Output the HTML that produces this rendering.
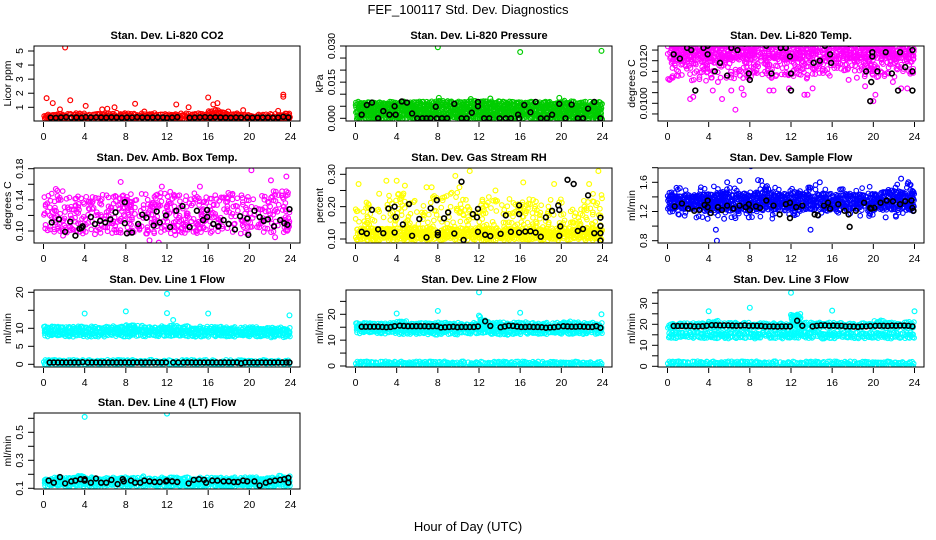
<!DOCTYPE html>
<html><head><meta charset="utf-8">
<style>
html,body{margin:0;padding:0;background:#fff}
svg{display:block}
text{font-family:"Liberation Sans",Arial,sans-serif;fill:#000}
.pt{font-weight:bold;font-size:11px}
.tk{font-size:10.5px}
</style></head>
<body>
<svg id="chart" width="936" height="540" viewBox="0 0 936 540" xmlns="http://www.w3.org/2000/svg">
<text x="468" y="14" text-anchor="middle" font-size="13">FEF_100117  Std. Dev. Diagnostics</text>
<text x="468" y="531" text-anchor="middle" font-size="13">Hour of Day (UTC)</text>
</svg>
<script>
const NS="http://www.w3.org/2000/svg";
const svg=document.getElementById('chart');
const xTicks=[0,4,8,12,16,20,24];

// ---- CO2 ----
const co2RedLo=[0.2,0.2,0.2,0.2,0.2,0.2,0.2,0.2,0.2,0.2,0.2,0.2,0.2,0.2,0.2,0.2,0.2,0.2,0.2,0.2,0.2,0.2,0.2,0.2];
const co2RedHi=[0.45,0.5,0.45,0.5,0.45,0.5,0.5,0.55,0.5,0.5,0.5,0.45,0.5,0.5,0.45,0.5,0.75,0.7,0.5,0.45,0.4,0.45,0.45,0.5];
const co2RedX=[0.3,0.9,1.6,2.1,2.6,4.1,5.7,6.2,6.9,8.9,9.8,12.9,14.1,16.0,16.5,16.9,19.4,22.8,23.3,23.3,23.5];
const co2RedY=[1.65,1.3,0.85,5.25,1.5,1.1,0.85,0.9,1.0,1.25,0.7,1.2,1.0,1.7,1.2,1.3,0.8,0.75,1.9,1.75,0.55];
const co2BlkX=[0.7,1.2,1.7,2.2,2.7,3.2,3.7,4.1,4.6,5.1,5.6,6.1,6.6,7.1,7.6,8.1,8.6,9.1,9.6,10.1,10.6,11.1,11.6,12.0,12.5,13.0,14.2,14.7,15.2,15.7,16.2,16.7,17.2,17.7,18.2,18.7,19.2,19.8,20.3,20.8,21.3,21.8,22.3,22.8,23.3,23.8];
const co2BlkY=[0.27,0.25,0.28,0.3,0.27,0.28,0.26,0.3,0.28,0.29,0.28,0.27,0.29,0.28,0.26,0.28,0.27,0.3,0.28,0.27,0.28,0.29,0.28,0.25,0.27,0.3,0.26,0.27,0.29,0.3,0.28,0.29,0.28,0.27,0.26,0.28,0.27,0.28,0.26,0.27,0.28,0.27,0.26,0.27,0.32,0.28];
// ---- Pressure ----
const prsLo=[0,0,0,0,0,0,0,0,0,0,0,0,0,0,0,0,0,0,0,0,0,0,0,0];
const prsHi=[0.0065,0.0065,0.0065,0.0065,0.0065,0.0065,0.0065,0.0065,0.0068,0.0065,0.0065,0.0068,0.0068,0.0068,0.0065,0.0068,0.0065,0.0065,0.0065,0.0065,0.0068,0.0065,0.0065,0.0065];
const prsGrnX=[8.0,16.0,23.9,8.1,13.1,19.8,11.2];
const prsGrnY=[0.0295,0.0275,0.0280,0.0085,0.0082,0.0085,0.0080];
const prsBlkX=[0.6,1.1,1.6,2.2,2.7,3.3,3.8,3.9,4.5,5.0,5.5,6.0,6.5,6.9,7.3,7.8,7.9,8.4,8.9,9.6,10.3,10.8,11.3,11.9,11.9,12.5,13.0,14.0,14.6,15.1,15.8,15.9,16.4,17.0,17.5,18.0,18.6,19.1,19.8,20.4,21.0,21.6,22.1,22.6,23.2,23.8];
const prsBlkY=[0.0015,0.0055,0.0065,0,0.003,0.0015,0.005,0.0015,0.0070,0.0065,0.002,0,0,0,0,0.0048,0,0,0,0.006,0,0,0.0023,0.0068,0.005,0,0,0,0,0,0.0015,0,0.0055,0.0025,0.0068,0,0,0.0015,0.006,0,0.0057,0,0,0.004,0.0068,0];
// ---- Li-820 Temp ----
const tmpTopLo=[0.0121,0.0121,0.0121,0.0121,0.0121,0.0121,0.0121,0.0121,0.0121,0.0121,0.0121,0.0121,0.0121,0.0121,0.0121,0.0121,0.0121,0.0121,0.0121,0.0121,0.0121,0.0121,0.0121,0.0121];
const tmpTopHi=[0.0128,0.0128,0.0128,0.0128,0.0128,0.0128,0.0128,0.0128,0.0128,0.0128,0.0128,0.0128,0.0128,0.0128,0.0128,0.0128,0.0128,0.0128,0.0128,0.0128,0.0128,0.0128,0.0128,0.0128];
const tmpMidLo=[0.0111,0.0112,0.0111,0.0111,0.0112,0.0111,0.0112,0.0112,0.0113,0.0113,0.0112,0.0113,0.0113,0.0112,0.0113,0.0113,0.0115,0.0116,0.0115,0.0113,0.0112,0.0113,0.0112,0.0114];
const tmpMidHi=[0.0121,0.0121,0.0121,0.0121,0.0121,0.0121,0.0121,0.0121,0.0121,0.0121,0.0121,0.0121,0.0121,0.0121,0.0121,0.0121,0.0121,0.0121,0.0121,0.0121,0.0121,0.0121,0.0121,0.0121];
const tmpMagX=[2.2,2.5,4.4,5.3,6.2,6.6,7.2,7.4,9.9,10.3,11.8,13.3,13.6,14.1,19.7,20.0,20.2,22.7,23.3,21.9,17.6,18.4,19.2,4.9,0.2,0.5];
const tmpMagY=[0.0102,0.0103,0.0106,0.0102,0.0106,0.0097,0.0107,0.0104,0.0106,0.0106,0.0107,0.0104,0.0104,0.0107,0.0101,0.0101,0.0104,0.0107,0.0107,0.0110,0.0111,0.0112,0.0108,0.0110,0.0111,0.0112];
const tmpBlkX=[0.6,1.2,1.9,2.3,2.7,3.5,3.9,3.9,4.6,5.1,5.8,6.2,6.8,7.5,7.9,8.0,8.6,9.6,10.1,11.0,11.5,11.9,12.0,12.0,12.8,13.3,14.2,14.8,15.3,15.8,15.8,15.9,17.1,17.6,18.2,18.6,19.3,19.8,19.7,19.9,19.9,20.4,21.2,21.8,22.4,22.6,23.1,23.8,23.8,23.8];
const tmpBlkY=[0.0123,0.0121,0.0126,0.0125,0.0106,0.0126,0.0127,0.0123,0.0115,0.0119,0.0113,0.0126,0.0125,0.0128,0.0114,0.0111,0.0129,0.0127,0.0114,0.0126,0.0126,0.0122,0.0114,0.0106,0.0129,0.0129,0.0119,0.0120,0.0127,0.0128,0.0123,0.0119,0.0129,0.0128,0.0129,0.0128,0.0115,0.0110,0.0101,0.0124,0.0122,0.0115,0.0124,0.0114,0.0106,0.0124,0.0117,0.0125,0.0115,0.0106];
// ---- Amb Box Temp ----
const ambLo=[0.100,0.099,0.097,0.098,0.098,0.097,0.099,0.099,0.098,0.098,0.097,0.097,0.098,0.099,0.098,0.099,0.099,0.100,0.099,0.098,0.099,0.100,0.098,0.099];
const ambHi=[0.148,0.152,0.148,0.145,0.148,0.145,0.147,0.146,0.148,0.150,0.145,0.148,0.150,0.146,0.147,0.148,0.145,0.148,0.148,0.146,0.145,0.145,0.150,0.150];
const ambMagX=[20.2,23.6,22.1,7.5,11.5,15.2,10.3,11.2,1.2,22.5,12.8,5.0,0.4,1.9];
const ambMagY=[0.178,0.170,0.165,0.163,0.157,0.157,0.088,0.085,0.154,0.092,0.095,0.096,0.101,0.094];
const ambBlkX=[0.8,1.5,2.1,2.6,3.1,3.5,3.7,3.8,4.6,5.0,5.5,6.0,6.5,7.0,7.9,7.9,8.1,8.6,9.2,9.6,10.0,10.7,11.0,11.3,11.9,12.3,12.9,13.5,14.2,14.9,15.5,15.9,15.9,16.5,17.0,17.5,18.0,18.6,19.1,19.8,19.9,20.5,21.0,21.4,21.8,22.4,23.0,23.4,23.7,23.9];
const ambBlkY=[0.111,0.115,0.099,0.112,0.094,0.103,0.104,0.106,0.118,0.109,0.113,0.111,0.115,0.124,0.137,0.110,0.097,0.098,0.109,0.121,0.117,0.107,0.125,0.111,0.120,0.105,0.126,0.132,0.105,0.126,0.114,0.127,0.118,0.109,0.106,0.114,0.109,0.102,0.119,0.116,0.095,0.126,0.118,0.113,0.115,0.106,0.114,0.110,0.108,0.128];
// ---- Gas Stream RH ----
const rhLoD=[0.10,0.10,0.10,0.10,0.10,0.10,0.10,0.10,0.10,0.10,0.10,0.10,0.10,0.10,0.10,0.10,0.10,0.10,0.10,0.10,0.10,0.10,0.10,0.10];
const rhHiD=[0.13,0.13,0.13,0.13,0.13,0.13,0.13,0.13,0.13,0.13,0.13,0.13,0.13,0.13,0.13,0.13,0.13,0.13,0.13,0.13,0.13,0.13,0.13,0.13];
const rhLoS=[0.13,0.13,0.13,0.13,0.13,0.13,0.13,0.13,0.13,0.13,0.13,0.13,0.13,0.13,0.13,0.13,0.13,0.13,0.13,0.13,0.13,0.13,0.13,0.13];
const rhHiS=[0.20,0.22,0.23,0.23,0.24,0.22,0.20,0.23,0.23,0.24,0.22,0.22,0.23,0.23,0.22,0.21,0.22,0.22,0.22,0.22,0.21,0.21,0.22,0.24];
const rhYelX=[0.3,3.0,4.0,11.1,23.6,9.7,10.1,6.9,7.4,13.6,4.8,2.3,16.3,22.7,19.3];
const rhYelY=[0.27,0.28,0.28,0.31,0.31,0.295,0.26,0.26,0.26,0.25,0.265,0.24,0.275,0.27,0.27];
const rhBlkX=[0.6,1.1,1.6,2.2,2.7,3.2,3.8,3.8,3.9,4.6,5.2,5.5,6.2,6.9,7.3,7.9,8.0,8.0,8.6,9.0,9.6,10.3,10.5,11.4,11.8,11.9,11.9,12.6,13.1,14.1,14.6,15.1,15.9,15.9,15.9,16.5,17.0,17.5,18.0,18.5,19.1,19.7,19.8,19.9,19.8,20.6,21.2,21.6,22.1,22.6,23.2,23.8,23.8,23.8,23.8];
const rhBlkY=[0.122,0.117,0.19,0.13,0.118,0.194,0.20,0.12,0.168,0.145,0.208,0.11,0.162,0.105,0.195,0.22,0.12,0.112,0.164,0.182,0.117,0.277,0.097,0.177,0.167,0.193,0.122,0.113,0.109,0.116,0.173,0.122,0.204,0.177,0.12,0.123,0.124,0.12,0.107,0.167,0.187,0.204,0.19,0.139,0.11,0.283,0.27,0.125,0.131,0.235,0.118,0.14,0.166,0.118,0.095];
// ---- Sample Flow ----
const sfLoD=[1.25,1.23,1.24,1.22,1.23,1.24,1.22,1.23,1.24,1.22,1.23,1.24,1.22,1.23,1.24,1.22,1.23,1.24,1.23,1.22,1.23,1.24,1.23,1.22];
const sfHiD=[1.45,1.43,1.42,1.44,1.43,1.45,1.44,1.43,1.45,1.44,1.43,1.44,1.45,1.44,1.43,1.44,1.42,1.43,1.42,1.44,1.45,1.46,1.47,1.46];
const sfLoS=[1.15,1.14,1.13,1.12,1.14,1.13,1.13,1.15,1.14,1.14,1.12,1.13,1.14,1.14,1.13,1.14,1.15,1.15,1.13,1.12,1.14,1.13,1.14,1.15];
const sfHiS=[1.54,1.52,1.50,1.52,1.53,1.56,1.52,1.54,1.52,1.55,1.52,1.54,1.52,1.53,1.55,1.52,1.50,1.50,1.52,1.54,1.52,1.56,1.60,1.58];
const sfBluX=[8.1,4.7,4.8,13.9,1.2,5.8,7.0,9.1,14.8,22.7,23.4,8.8,3.9,5.5,6.6,7.9,21.2,19.6,22.2];
const sfBluY=[1.82,0.95,0.80,0.95,1.52,1.60,1.62,1.62,1.60,1.65,1.60,1.63,1.10,1.10,1.11,1.12,1.12,1.14,1.13];
const sfBlkX=[0.7,1.4,2.0,2.6,3.1,3.6,3.9,3.9,4.2,4.9,5.3,5.8,6.4,7.0,7.6,7.9,8.0,8.6,9.0,9.6,10.3,10.9,11.5,11.9,11.9,12.5,13.1,14.3,14.6,15.2,15.6,15.8,16.6,17.2,17.7,17.6,18.3,19.1,19.7,19.8,20.1,20.7,21.3,21.9,22.6,23.1,23.7,23.8,23.9];
const sfBlkY=[1.27,1.31,1.24,1.21,1.22,1.29,1.35,1.26,1.18,1.26,1.22,1.28,1.24,1.28,1.26,1.30,1.22,1.27,1.25,1.35,1.28,1.16,1.30,1.32,1.11,1.26,1.28,1.16,1.15,1.28,1.32,1.24,1.30,1.21,0.99,1.16,1.21,1.32,1.25,1.24,1.25,1.32,1.35,1.34,1.30,1.34,1.35,1.25,1.21];
// ---- Line 1 ----
const l1Lo=[8.0,8.0,8.0,8.0,8.0,8.0,8.0,8.0,8.0,8.0,8.0,8.0,8.0,8.0,8.0,8.0,8.0,8.0,8.0,8.0,8.0,8.0,7.8,7.8];
const l1Hi=[10.2,10.2,10.2,10.2,10.2,10.3,10.3,10.3,10.6,10.5,10.3,10.3,10.4,10.3,10.2,10.2,10.2,10.2,10.0,10.0,10.0,10.0,9.9,9.9];
const l1BaseLo=[0.2,0.2,0.2,0.2,0.2,0.2,0.2,0.2,0.2,0.2,0.2,0.2,0.2,0.2,0.2,0.2,0.2,0.2,0.2,0.2,0.2,0.2,0.2,0.2];
const l1BaseHi=[0.9,0.9,0.9,0.9,0.9,0.9,0.9,0.9,0.9,0.9,0.9,0.9,0.9,0.9,0.9,0.9,0.9,0.9,0.9,0.9,0.9,0.9,0.9,0.9];
const l1CyX=[4.0,8.0,12.0,12.0,12.6,16.0,23.9,8.6];
const l1CyY=[14.1,14.7,19.6,14.2,12.3,14.1,13.6,10.8];
const l1BlkX=[0.6,1.0,1.4,1.8,2.2,2.6,3.0,3.4,3.8,4.3,4.7,5.1,5.5,5.9,6.3,6.7,7.1,7.5,7.9,8.3,8.7,9.1,9.5,9.9,10.3,10.7,11.1,11.5,11.9,12.6,13.1,13.6,14.0,14.4,14.8,15.2,15.6,16.0,16.4,16.8,17.2,17.6,18.0,18.4,18.8,19.2,19.6,20.0,20.4,20.8,21.2,21.6,22.0,22.4,22.8,23.2,23.6,23.9];
const l1BlkY=[0.5,0.5,0.5,0.5,0.5,0.5,0.5,0.5,0.6,0.5,0.5,0.5,0.5,0.5,0.5,0.5,0.5,0.5,0.5,0.5,0.5,0.5,0.5,0.5,0.5,0.5,0.5,0.5,0.5,0.5,0.5,0.5,0.5,0.5,0.5,0.5,0.5,0.5,0.5,0.5,0.5,0.5,0.5,0.5,0.5,0.3,0.5,0.5,0.5,0.5,0.5,0.5,0.5,0.5,0.5,0.5,0.5,0.5];
// ---- Line 2 ----
const l2Lo=[13.0,13.0,13.0,13.0,12.8,12.8,12.5,12.5,12.8,12.5,12.8,12.8,13.0,12.5,12.5,12.8,12.8,12.8,12.8,12.8,12.8,12.8,12.8,12.8];
const l2Hi=[16.2,16.2,16.2,16.2,17.0,16.5,16.5,16.2,16.5,16.3,16.2,16.3,17.5,16.5,16.5,16.5,16.5,16.3,16.3,16.3,16.8,16.5,16.3,16.3];
const l2BaseLo=[0,0,0,0,0,0,0,0,0,0,0,0,0,0,0,0,0,0,0,0,0,0,0,0];
const l2BaseHi=[1.3,1.3,1.3,1.3,1.3,1.3,1.3,1.3,1.3,1.3,1.3,1.3,1.3,1.3,1.3,1.3,1.3,1.3,1.3,1.3,1.3,1.3,1.3,1.3];
const l2CyX=[4.0,8.0,12.0,12.0,12.1,16.0,23.9];
const l2CyY=[20.3,21.3,28.5,19.5,19.0,20.6,20.0];
const l2BlkX=[0.6,1.0,1.4,1.8,2.2,2.6,3.0,3.4,3.8,4.3,4.7,5.1,5.5,5.9,6.3,6.7,7.1,7.5,7.9,8.3,8.7,9.1,9.5,9.9,10.3,10.7,11.1,11.5,11.9,12.6,13.1,14.1,14.5,14.9,15.3,15.7,16.1,16.5,16.9,17.3,17.7,18.1,18.5,18.9,19.3,19.7,20.2,20.6,21.0,21.4,21.8,22.2,22.6,23.0,23.4,23.8];
const l2BlkY=[15.2,15.2,15.2,15.2,15.2,15.1,15.0,15.1,15.4,15.6,15.5,15.4,15.4,15.4,15.4,15.4,15.3,15.4,15.4,14.9,15.0,15.1,15.2,15.0,15.1,15.1,15.1,15.1,15.3,17.3,15.5,15.0,15.3,15.6,15.5,15.3,15.1,15.1,15.2,15.1,15.1,15.0,14.8,14.9,15.0,15.2,15.4,15.3,15.2,15.2,15.3,15.2,15.1,15.1,15.4,14.8];
// ---- Line 3 ----
const l3LoA=[14.0,14.0,14.0,14.0,13.8,13.8,14.0,14.0,13.8,14.0,14.0,13.8,14.0,14.0,14.0,13.8,13.8,14.0,13.8,13.8,14.0,13.8,14.0,14.0];
const l3HiA=[15.8,15.8,15.8,15.8,15.8,15.8,15.8,15.8,15.8,15.8,15.8,15.8,16.5,15.8,15.8,15.8,15.8,15.6,15.6,15.6,15.6,15.6,15.6,15.6];
const l3LoB=[18.8,18.8,18.8,18.8,18.8,18.8,18.8,18.8,18.8,18.8,18.8,18.8,18.8,18.8,18.8,18.8,18.8,18.8,18.8,18.8,18.8,18.8,18.8,18.8];
const l3HiB=[20.0,20.0,20.0,20.0,21.2,20.3,20.3,20.3,20.3,20.0,20.0,20.0,24.5,20.3,20.3,20.3,20.3,20.0,20.0,20.0,21.3,20.3,20.0,20.6];
const l3BaseLo=[0,0,0,0,0,0,0,0,0,0,0,0,0,0,0,0,0,0,0,0,0,0,0,0];
const l3BaseHi=[1.8,1.8,1.8,1.8,1.8,1.8,1.8,1.8,1.8,1.8,1.8,1.8,1.8,1.8,1.8,1.8,1.8,1.8,1.8,1.8,1.8,1.8,1.8,1.8];
const l3CyX=[4.0,8.0,12.0,12.0,12.2,16.0,24.0];
const l3CyY=[26.2,27.9,35.0,24.5,24.2,26.5,26.2];
const l3BlkX=[0.6,1.0,1.4,1.8,2.2,2.6,3.0,3.4,3.8,4.3,4.7,5.1,5.5,5.9,6.3,6.7,7.1,7.5,7.9,8.3,8.7,9.1,9.5,9.9,10.3,10.7,11.1,11.5,11.9,12.6,13.1,14.1,14.5,14.9,15.3,15.7,16.1,16.5,16.9,17.3,17.7,18.1,18.5,18.9,19.3,19.7,20.2,20.6,21.0,21.4,21.8,22.2,22.6,23.0,23.4,23.8];
const l3BlkY=[19.2,19.2,19.2,19.2,19.2,19.0,19.0,19.1,19.3,19.6,19.6,19.5,19.5,19.5,19.4,19.3,19.4,19.5,19.3,19.3,19.3,19.2,19.0,19.0,19.0,18.9,19.0,19.0,19.0,21.7,19.3,19.0,19.3,19.5,19.5,19.3,19.4,19.3,19.3,19.0,19.0,18.9,18.8,19.0,19.0,19.2,19.3,19.3,19.3,19.2,19.4,19.3,19.4,19.4,19.3,19.0];
// ---- Line 4 ----
const l4Lo=[0.12,0.12,0.12,0.12,0.12,0.12,0.12,0.12,0.12,0.12,0.12,0.12,0.12,0.12,0.12,0.12,0.12,0.12,0.12,0.12,0.12,0.12,0.12,0.12];
const l4Hi=[0.16,0.17,0.17,0.18,0.17,0.17,0.17,0.17,0.17,0.17,0.17,0.17,0.17,0.17,0.17,0.17,0.17,0.17,0.17,0.17,0.17,0.17,0.17,0.18];
const l4CyX=[4.0,12.0,3.5,9.7,22.9];
const l4CyY=[0.610,0.633,0.185,0.185,0.190];
const l4BlkX=[0.5,1.0,1.6,2.1,2.7,3.1,3.6,4.0,4.0,4.6,5.1,5.6,6.1,6.6,7.2,7.7,7.8,8.5,8.9,9.4,9.8,10.3,10.8,11.3,11.9,12.0,12.5,13.0,14.1,14.6,15.1,15.6,15.8,16.4,16.9,17.5,18.0,18.5,18.9,19.4,19.8,20.5,21.0,21.6,22.0,22.5,23.0,23.4,23.8,23.8];
const l4BlkY=[0.155,0.14,0.18,0.135,0.15,0.155,0.165,0.165,0.155,0.14,0.17,0.14,0.14,0.16,0.13,0.165,0.15,0.155,0.14,0.14,0.155,0.15,0.145,0.145,0.15,0.155,0.15,0.145,0.135,0.16,0.165,0.16,0.14,0.155,0.155,0.15,0.15,0.145,0.145,0.155,0.15,0.15,0.12,0.14,0.15,0.155,0.16,0.165,0.175,0.14];

function el(tag,attrs,parent){const e=document.createElementNS(NS,tag);for(const k in attrs)e.setAttribute(k,attrs[k]);(parent||svg).appendChild(e);return e;}
// deterministic spatial hash used only to scatter fill glyphs inside a data band
function hsh(a,b,c){let h=(a*374761393+b*668265263+c*2147483647)|0;h=(h^(h>>>13))*1274126177|0;h^=h>>>16;return (h>>>0)%10000/10000;}

let pid=0;
function makePanel(name,title,ylab,L,T,B,yref,yTicks,yLabels){
  const W=266;
  const g=el('g',{});
  
  
  const sx=h=>L+9.5+h*(247/24);
  const sy=v=>yref[1]+(v-yref[0])*(yref[3]-yref[1])/(yref[2]-yref[0]);
  const cid='clip'+(pid++);
  const cp=el('clipPath',{id:cid},g);el('rect',{x:L,y:T,width:W,height:B-T},cp);
  const plot=el('g',{'clip-path':'url(#'+cid+')'},g);
  
  
  const t=el('text',{x:L+W/2,y:T-7,'text-anchor':'middle',class:'pt'},g);t.textContent=title;
  
  
  const yl=el('text',{x:0,y:0,'text-anchor':'middle',class:'tk',transform:`translate(${L-23},${(T+B)/2}) rotate(-90)`},g);yl.textContent=ylab;
  
  
  xTicks.forEach(h=>{
    el('line',{x1:sx(h),x2:sx(h),y1:B+1,y2:B+6,stroke:'#000','stroke-width':1},g);
    const tx=el('text',{x:sx(h),y:B+19,'text-anchor':'middle',class:'tk'},g);tx.textContent=h;
    
    
  });
  yTicks.forEach((v,i)=>{
    const y=sy(v);
    el('line',{x1:L-6,x2:L,y1:y,y2:y,stroke:'#000','stroke-width':1},g);
    if(yLabels[i]!==''){
      const ty=el('text',{x:0,y:0,'text-anchor':'middle',class:'tk',transform:`translate(${L-11},${y}) rotate(-90)`},g);ty.textContent=yLabels[i];
      
      
    }
  });
  return {g,plot,sx,sy,L,T,B,W};
}
function frame(p){
  const r=el('rect',{x:p.L,y:p.T,width:p.W,height:p.B-p.T,fill:'none',stroke:'#000','stroke-width':1},p.g);
  
  
}
function band(p,lo,hi,color,dens,name){
  const g=el('g',{fill:'none',stroke:color,'stroke-width':1.1},p.plot);
  
  
  const seed=name.length*31;
  for(let i=0;i<lo.length;i++){
    for(let k=0;k<7;k++){
      const y1=p.sy(lo[i]),y2=p.sy(hi[i]);
      const n=Math.max(1,Math.round(Math.abs(y1-y2)/2.6));
      for(let j=0;j<=n;j++){
        if(hsh(i+seed,k,j)>=dens)continue;
        const h=i+0.07+k*0.14+(hsh(j,i,k+seed)-0.5)*0.12;
        const y=y1+(y2-y1)*j/n+(hsh(k,j+seed,i)-0.5)*2.6;
        el('circle',{cx:p.sx(h),cy:y,r:2.3},g);
      }
    }
  }
}
function pts(p,xs,ys,color,name){
  const g=el('g',{fill:'none',stroke:color,'stroke-width':color==='#000'?1.6:1.2},p.plot);
  
  
  xs.forEach((x,i)=>{el('circle',{cx:p.sx(x),cy:p.sy(ys[i]),r:2.4},g);});
}
const RED='#ff0000',GRN='#00cd00',MAG='#ff00ff',YEL='#ffff00',BLU='#0000ff',CY='#00ffff',BK='#000';

let p;
p=makePanel('co2-panel','Stan. Dev. Li-820 CO2','Licor ppm',34,46,121,[1,107.3,5,51],[1,2,3,4,5],['1','2','3','4','5']);
band(p,co2RedLo,co2RedHi,RED,0.9,'co2-red-cloud');pts(p,co2RedX,co2RedY,RED,'co2-red-points');pts(p,co2BlkX,co2BlkY,BK,'co2-black-points');frame(p);

p=makePanel('pressure-panel','Stan. Dev. Li-820 Pressure','kPa',346,46,121,[0,118.3,0.03,46],[0,0.005,0.01,0.015,0.02,0.025,0.03],['0.000','','','0.015','','','0.030']);
band(p,prsLo,prsHi,GRN,0.9,'pressure-green-cloud');pts(p,prsGrnX,prsGrnY,GRN,'pressure-green-points');pts(p,prsBlkX,prsBlkY,BK,'pressure-black-points');frame(p);

p=makePanel('temp-panel','Stan. Dev. Li-820 Temp.','degrees C',658,46,121,[0.01,103.3,0.012,60.7],[0.0095,0.01,0.0105,0.011,0.0115,0.012,0.0125],['','0.0100','','','','0.0120','']);
band(p,tmpMidLo,tmpMidHi,MAG,0.25,'temp-magenta-sparse');band(p,tmpTopLo,tmpTopHi,MAG,0.6,'temp-magenta-dense');pts(p,tmpMagX,tmpMagY,MAG,'temp-magenta-points');pts(p,tmpBlkX,tmpBlkY,BK,'temp-black-points');frame(p);

p=makePanel('ambbox-panel','Stan. Dev. Amb. Box Temp.','degrees C',34,168,243,[0.10,231,0.18,168.7],[0.10,0.12,0.14,0.16,0.18],['0.10','','0.14','','0.18']);
band(p,ambLo,ambHi,MAG,0.22,'ambbox-magenta-cloud');pts(p,ambMagX,ambMagY,MAG,'ambbox-magenta-points');pts(p,ambBlkX,ambBlkY,BK,'ambbox-black-points');frame(p);

p=makePanel('rh-panel','Stan. Dev. Gas Stream RH','percent',346,168,243,[0.10,239,0.30,174.3],[0.10,0.15,0.20,0.25,0.30],['0.10','','0.20','','0.30']);
band(p,rhLoS,rhHiS,YEL,0.15,'rh-yellow-sparse');band(p,rhLoD,rhHiD,YEL,0.75,'rh-yellow-dense');pts(p,rhYelX,rhYelY,YEL,'rh-yellow-points');pts(p,rhBlkX,rhBlkY,BK,'rh-black-points');frame(p);

p=makePanel('sampleflow-panel','Stan. Dev. Sample Flow','ml/min',658,168,243,[0.8,240.7,1.6,182.3],[0.8,1.0,1.2,1.4,1.6,1.8],['0.8','','1.2','','1.6','']);
band(p,sfLoS,sfHiS,BLU,0.15,'sampleflow-blue-sparse');band(p,sfLoD,sfHiD,BLU,0.65,'sampleflow-blue-dense');pts(p,sfBluX,sfBluY,BLU,'sampleflow-blue-points');pts(p,sfBlkX,sfBlkY,BK,'sampleflow-black-points');frame(p);

p=makePanel('line1-panel','Stan. Dev. Line 1 Flow','ml/min',34,290,367,[0,364.3,20,292.3],[0,5,10,15,20],['0','5','10','','20']);
band(p,l1Lo,l1Hi,CY,0.9,'line1-cyan-cloud');band(p,l1BaseLo,l1BaseHi,CY,0.9,'line1-cyan-base');pts(p,l1CyX,l1CyY,CY,'line1-cyan-points');pts(p,l1BlkX,l1BlkY,BK,'line1-black-points');frame(p);

p=makePanel('line2-panel','Stan. Dev. Line 2 Flow','ml/min',346,290,367,[0,366,20,314.3],[0,5,10,15,20,25],['0','','10','','20','']);
band(p,l2Lo,l2Hi,CY,0.9,'line2-cyan-cloud');band(p,l2BaseLo,l2BaseHi,CY,0.95,'line2-cyan-base');pts(p,l2CyX,l2CyY,CY,'line2-cyan-points');pts(p,l2BlkX,l2BlkY,BK,'line2-black-points');frame(p);

p=makePanel('line3-panel','Stan. Dev. Line 3 Flow','ml/min',658,290,367,[0,366.3,30,303.3],[0,5,10,15,20,25,30,35],['0','','10','','20','','30','']);
band(p,l3LoA,l3HiA,CY,0.9,'line3-cyan-low-cloud');band(p,l3LoB,l3HiB,CY,0.9,'line3-cyan-high-cloud');band(p,l3BaseLo,l3BaseHi,CY,0.95,'line3-cyan-base');pts(p,l3CyX,l3CyY,CY,'line3-cyan-points');pts(p,l3BlkX,l3BlkY,BK,'line3-black-points');frame(p);

p=makePanel('line4-panel','Stan. Dev. Line 4 (LT) Flow','ml/min',34,413,489,[0.1,488.3,0.5,432.3],[0.1,0.2,0.3,0.4,0.5,0.6],['0.1','','0.3','','0.5','']);
band(p,l4Lo,l4Hi,CY,0.9,'line4-cyan-cloud');pts(p,l4CyX,l4CyY,CY,'line4-cyan-points');pts(p,l4BlkX,l4BlkY,BK,'line4-black-points');frame(p);
</script>
</body></html>
